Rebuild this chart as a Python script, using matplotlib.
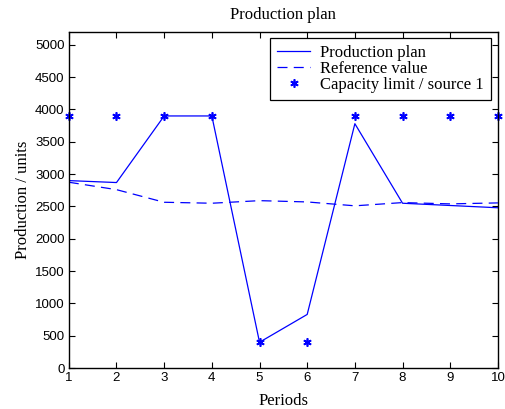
import numpy as np
from matplotlib import pyplot as plt

periods = [1, 2, 3, 4, 5, 6, 7, 8, 9, 10]
plan = [2900, 2870, 3900, 3900, 400, 830, 3780, 2550, 2515, 2480]
reference = [2875, 2760, 2565, 2550, 2590, 2570, 2510, 2560, 2540, 2555]
capacity = [3900, 3900, 3900, 3900, 400, 400, 3900, 3900, 3900, 3900]

serif = ['Liberation Serif', 'DejaVu Serif']
sans = ['Liberation Sans', 'DejaVu Sans']

fig = plt.figure(figsize=(5.06, 4.09), dpi=100)
ax = fig.add_axes([0.136, 0.100, 0.848, 0.822])

ax.plot(periods, plan, color='#0000ff', linewidth=0.9, label='Production plan')
ax.plot(periods, reference, color='#0000ff', linewidth=0.9, linestyle=(0, (8, 5)),
        label='Reference value')
ax.plot(periods, capacity, color='#0000ff', linestyle='none', marker=(6, 2, 0),
        markersize=6, markeredgewidth=1.2, clip_on=False,
        label='Capacity limit / source 1')

ax.set_xlim(1, 10)
ax.set_ylim(0, 5200)
ax.set_xticks(periods)
ax.set_yticks(np.arange(0, 5001, 500))
ax.tick_params(direction='in', top=True, right=True, length=4, width=0.8,
               labelsize=9.5, pad=3)
for lab in ax.get_xticklabels() + ax.get_yticklabels():
    lab.set_family(sans)
for s in ax.spines.values():
    s.set_linewidth(1.0)

ax.set_title('Production plan', family=serif, fontsize=12, pad=9)
ax.set_xlabel('Periods', family=serif, fontsize=12, labelpad=6)
ax.set_ylabel('Production / units', family=serif, fontsize=12, labelpad=3)

leg = ax.legend(loc='upper right', bbox_to_anchor=(0.984, 0.983),
                prop={'family': serif, 'size': 12}, fancybox=False,
                framealpha=1, edgecolor='black', borderpad=0.42,
                labelspacing=0.0, handlelength=2.0, handletextpad=0.6,
                borderaxespad=0)
leg.get_frame().set_linewidth(0.9)

plt.savefig('out.png', dpi=100)
